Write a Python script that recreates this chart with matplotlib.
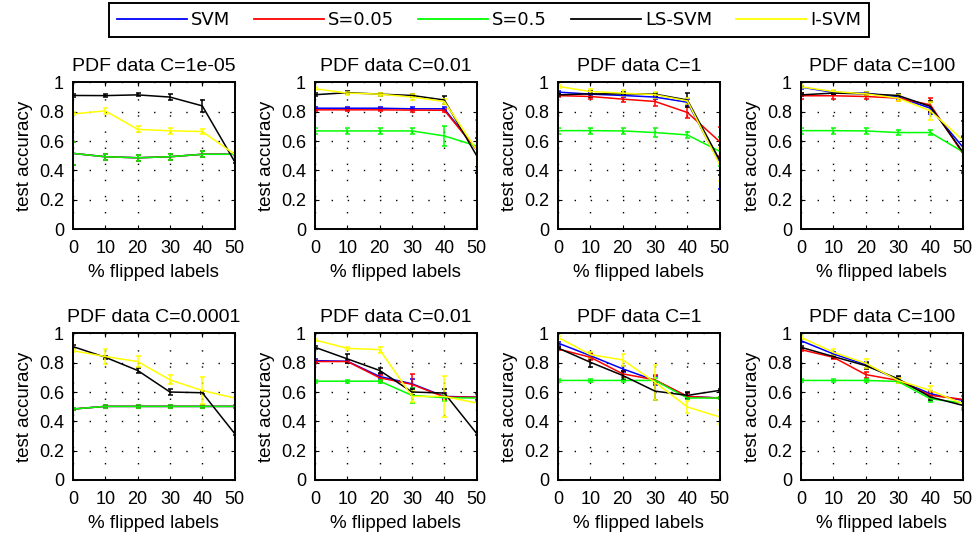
import numpy as np
import matplotlib.pyplot as plt

# % of flipped training labels
flipped = [0, 10, 20, 30, 40, 50]

methods = ['SVM', 'S=0.05', 'S=0.5', 'LS-SVM', 'I-SVM']
colors = ['#0000ff', '#ff0000', '#00ff00', '#000000', '#ffff00']

titles = ['PDF data C=1e-05', 'PDF data C=0.01', 'PDF data C=1', 'PDF data C=100',
          'PDF data C=0.0001', 'PDF data C=0.01', 'PDF data C=1', 'PDF data C=100']

# mean test accuracy per panel, one row per method (SVM, S=0.05, S=0.5, LS-SVM, I-SVM)
acc_c1e5 = [
    [0.516, 0.493, 0.486, 0.493, 0.510, 0.510],
    [0.516, 0.493, 0.486, 0.493, 0.510, 0.510],
    [0.516, 0.493, 0.486, 0.493, 0.510, 0.510],
    [0.911, 0.910, 0.915, 0.900, 0.840, 0.460],
    [0.785, 0.806, 0.680, 0.670, 0.665, 0.510],
]
acc_c001_a = [
    [0.824, 0.824, 0.824, 0.820, 0.820, 0.540],
    [0.813, 0.813, 0.813, 0.811, 0.810, 0.540],
    [0.669, 0.669, 0.669, 0.669, 0.635, 0.566],
    [0.916, 0.930, 0.920, 0.911, 0.880, 0.500],
    [0.957, 0.927, 0.920, 0.900, 0.870, 0.539],
]
acc_c1_a = [
    [0.934, 0.920, 0.911, 0.900, 0.865, 0.450],
    [0.910, 0.904, 0.886, 0.870, 0.795, 0.596],
    [0.671, 0.671, 0.669, 0.658, 0.642, 0.530],
    [0.915, 0.922, 0.922, 0.920, 0.880, 0.470],
    [0.973, 0.938, 0.927, 0.916, 0.874, 0.440],
]
acc_c100_a = [
    [0.968, 0.932, 0.927, 0.900, 0.824, 0.560],
    [0.909, 0.909, 0.904, 0.893, 0.847, 0.516],
    [0.671, 0.671, 0.669, 0.658, 0.658, 0.527],
    [0.915, 0.927, 0.922, 0.911, 0.836, 0.527],
    [0.970, 0.938, 0.922, 0.893, 0.806, 0.607],
]
acc_c1e4 = [
    [0.484, 0.502, 0.502, 0.502, 0.502, 0.502],
    [0.484, 0.502, 0.502, 0.502, 0.502, 0.502],
    [0.484, 0.502, 0.502, 0.502, 0.502, 0.502],
    [0.910, 0.837, 0.747, 0.600, 0.595, 0.317],
    [0.882, 0.842, 0.808, 0.683, 0.610, 0.559],
]
acc_c001_b = [
    [0.814, 0.810, 0.706, 0.656, 0.570, 0.565],
    [0.808, 0.808, 0.697, 0.652, 0.566, 0.565],
    [0.674, 0.674, 0.674, 0.577, 0.561, 0.559],
    [0.905, 0.826, 0.747, 0.600, 0.593, 0.317],
    [0.955, 0.898, 0.889, 0.570, 0.570, 0.525],
]
acc_c1_b = [
    [0.934, 0.848, 0.758, 0.679, 0.570, 0.559],
    [0.894, 0.837, 0.724, 0.683, 0.570, 0.559],
    [0.679, 0.679, 0.679, 0.679, 0.559, 0.559],
    [0.900, 0.803, 0.713, 0.606, 0.577, 0.611],
    [0.973, 0.855, 0.819, 0.667, 0.498, 0.430],
]
acc_c100_b = [
    [0.950, 0.860, 0.787, 0.683, 0.588, 0.543],
    [0.889, 0.837, 0.719, 0.679, 0.577, 0.550],
    [0.679, 0.679, 0.679, 0.672, 0.554, 0.525],
    [0.905, 0.842, 0.780, 0.690, 0.566, 0.509],
    [0.973, 0.871, 0.796, 0.679, 0.611, 0.520],
]

# standard deviations, same layout
err_c1e5 = [
    [0.08, 0.02, 0.02, 0.02, 0.02, 0.01],
    [0.08, 0.02, 0.02, 0.02, 0.02, 0.01],
    [0.08, 0.02, 0.02, 0.02, 0.02, 0.01],
    [0.01, 0.01, 0.01, 0.02, 0.04, 0.01],
    [0.01, 0.02, 0.02, 0.02, 0.02, 0.02],
]
err_c001_a = [
    [0.01, 0.01, 0.01, 0.01, 0.01, 0.12],
    [0.01, 0.01, 0.01, 0.01, 0.01, 0.12],
    [0.02, 0.02, 0.02, 0.02, 0.07, 0.18],
    [0.01, 0.01, 0.01, 0.01, 0.03, 0.12],
    [0.01, 0.01, 0.01, 0.02, 0.02, 0.12],
]
err_c1_a = [
    [0.01, 0.01, 0.01, 0.01, 0.02, 0.18],
    [0.01, 0.02, 0.02, 0.03, 0.04, 0.10],
    [0.02, 0.02, 0.02, 0.03, 0.02, 0.10],
    [0.01, 0.02, 0.01, 0.01, 0.05, 0.10],
    [0.01, 0.02, 0.02, 0.02, 0.02, 0.11],
]
err_c100_a = [
    [0.01, 0.01, 0.01, 0.01, 0.04, 0.18],
    [0.02, 0.02, 0.02, 0.02, 0.05, 0.12],
    [0.02, 0.02, 0.02, 0.02, 0.02, 0.10],
    [0.01, 0.01, 0.01, 0.01, 0.04, 0.10],
    [0.01, 0.01, 0.01, 0.02, 0.06, 0.11],
]
err_c1e4 = [
    [0.01, 0.01, 0.01, 0.01, 0.01, 0.01],
    [0.01, 0.01, 0.01, 0.01, 0.01, 0.01],
    [0.01, 0.01, 0.01, 0.01, 0.01, 0.01],
    [0.01, 0.01, 0.02, 0.02, 0.01, 0.01],
    [0.01, 0.05, 0.04, 0.03, 0.09, 0.01],
]
err_c001_b = [
    [0.01, 0.01, 0.02, 0.03, 0.02, 0.02],
    [0.01, 0.01, 0.02, 0.07, 0.02, 0.02],
    [0.01, 0.01, 0.01, 0.05, 0.02, 0.02],
    [0.01, 0.03, 0.02, 0.02, 0.03, 0.01],
    [0.01, 0.01, 0.02, 0.04, 0.14, 0.05],
]
err_c1_b = [
    [0.01, 0.02, 0.02, 0.03, 0.02, 0.01],
    [0.01, 0.02, 0.02, 0.03, 0.02, 0.01],
    [0.01, 0.01, 0.01, 0.02, 0.01, 0.01],
    [0.01, 0.03, 0.03, 0.06, 0.02, 0.01],
    [0.01, 0.02, 0.04, 0.12, 0.04, 0.05],
]
err_c100_b = [
    [0.01, 0.01, 0.02, 0.02, 0.02, 0.03],
    [0.01, 0.01, 0.02, 0.02, 0.02, 0.02],
    [0.01, 0.01, 0.01, 0.01, 0.02, 0.05],
    [0.01, 0.01, 0.02, 0.02, 0.02, 0.02],
    [0.01, 0.02, 0.03, 0.02, 0.03, 0.03],
]

panels = [acc_c1e5, acc_c001_a, acc_c1_a, acc_c100_a,
          acc_c1e4, acc_c001_b, acc_c1_b, acc_c100_b]
errors = [err_c1e5, err_c001_a, err_c1_a, err_c100_a,
          err_c1e4, err_c001_b, err_c1_b, err_c100_b]

plt.rcParams['font.family'] = ['Liberation Sans', 'DejaVu Sans']
plt.rcParams['font.size'] = 13.5

fig = plt.figure(figsize=(9.74, 5.39), dpi=100)

lefts = [0.0749, 0.3234, 0.5729, 0.8224]
bottoms = [0.5751, 0.1095]
w, h = 0.166, 0.272

yticks = [0, 0.2, 0.4, 0.6, 0.8, 1]
ytick_labels = ['0', '0.2', '0.4', '0.6', '0.8', '1']

handles = []
for k in range(8):
    ax = fig.add_axes([lefts[k % 4], bottoms[k // 4], w, h])
    for m in range(5):
        eb = ax.errorbar(flipped, panels[k][m], yerr=errors[k][m], color=colors[m],
                         lw=1.1, elinewidth=1.1, capsize=1.8, capthick=1.1)
        if k == 0:
            handles.append(eb.lines[0])
    ax.set_xlim(0, 50)
    ax.set_ylim(0, 1)
    ax.set_xticks(flipped)
    ax.set_yticks(yticks)
    ax.set_yticklabels(ytick_labels)
    ax.tick_params(direction='in', length=3, width=0.8, top=True, right=True,
                   labelsize=13)
    ax.tick_params(axis='x', pad=8)
    ax.tick_params(axis='y', pad=6.5)
    ax.grid(True, color='black', lw=1.0, linestyle=(0, (1, 10.6)))
    for s in ax.spines.values():
        s.set_linewidth(1.4)
    ax.set_title(titles[k], fontsize=14, pad=8)
    ax.set_xlabel('% flipped labels', labelpad=5)
    ax.set_ylabel('test accuracy', labelpad=4)

leg = fig.legend(handles, methods, loc='upper center', bbox_to_anchor=(0.502, 0.9944),
                 ncol=5, fancybox=False, edgecolor='black', framealpha=1,
                 prop={'family': 'DejaVu Sans', 'size': 13}, borderaxespad=0,
                 handlelength=3.9, handletextpad=0.22, columnspacing=1.3,
                 borderpad=0.45)
leg.get_frame().set_linewidth(1.4)
for ln in leg.get_lines():
    ln.set_linewidth(1.3)

fig.savefig('out.png', dpi=100)
